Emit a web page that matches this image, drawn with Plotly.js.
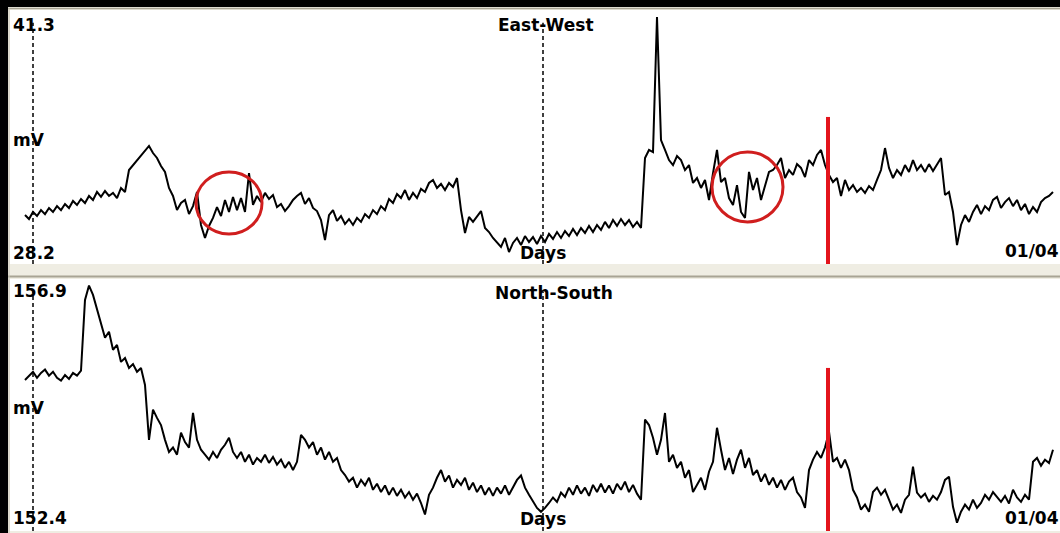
<!DOCTYPE html>
<html><head><meta charset="utf-8">
<script src="https://cdn.plot.ly/plotly-3.0.1.min.js"></script>
<style>html,body{margin:0;padding:0;background:#fff}#chart{width:1060px;height:533px}</style>
</head><body><div id="chart"></div>
<script>
// East-West channel (mV), one value per sample
const eastWest = [
30.66,30.45,30.82,30.61,30.92,30.71,31.03,30.82,31.13,30.92,
31.24,31.03,31.40,31.19,31.50,31.29,31.66,31.45,31.87,31.61,
31.92,31.66,31.82,31.55,32.08,31.87,33.02,33.28,33.54,33.81,
34.07,34.28,33.91,33.65,33.23,32.92,32.08,31.66,30.92,31.29,
31.45,30.71,31.13,31.87,30.14,29.46,30.09,30.51,31.08,30.61,
31.45,30.82,31.61,30.92,31.55,30.82,32.86,31.19,31.66,31.34,
31.82,31.50,31.71,31.08,31.24,30.87,31.13,31.45,31.66,31.82,
31.24,31.55,31.03,30.87,30.40,29.35,30.66,30.92,30.35,30.61,
30.19,30.45,30.14,30.51,30.30,30.71,30.51,30.92,30.71,31.13,
30.92,31.50,31.29,31.76,31.55,31.97,31.45,31.82,31.55,32.03,
31.87,32.34,32.50,32.08,32.29,31.97,32.34,32.13,32.60,30.92,
29.72,30.56,30.30,30.61,30.87,29.98,29.77,29.46,29.25,28.99,
29.46,28.72,29.20,29.46,29.09,29.56,29.25,29.51,29.14,29.56,
29.25,29.67,29.41,29.77,29.46,29.82,29.56,29.93,29.61,29.98,
29.72,30.09,29.77,30.14,29.88,30.30,29.98,30.40,30.09,30.45,
30.14,30.40,30.03,30.30,29.98,33.65,34.07,33.96,41.04,34.59,
34.07,33.54,33.28,33.75,33.54,33.02,33.28,32.34,32.60,32.08,
32.50,31.45,32.86,34.07,32.39,32.60,31.55,31.19,32.23,30.82,
30.51,32.92,31.97,32.60,31.45,32.23,32.92,33.02,33.28,33.65,
32.60,33.02,32.76,33.33,33.13,32.65,33.54,33.28,33.81,34.07,
33.28,32.76,32.39,32.60,31.66,32.50,31.97,32.23,31.87,32.08,
31.82,32.18,31.97,32.50,33.02,34.17,33.13,32.60,33.02,32.76,
33.28,32.92,33.54,33.02,33.28,32.92,33.33,32.97,33.28,33.65,
31.71,31.87,30.82,29.09,30.14,30.66,30.30,30.82,31.19,30.71,
31.13,30.92,31.45,31.61,31.03,31.34,31.55,31.13,31.45,30.92,
31.24,30.71,31.08,30.82,31.34,31.55,31.66,31.87
];
// North-South channel (mV), one value per sample
const northSouth = [
155.13,155.21,155.28,155.17,155.26,155.32,155.21,155.28,155.17,155.12,
155.22,155.15,155.26,155.21,155.30,156.59,156.85,156.68,156.41,156.14,
155.90,156.01,155.68,155.77,155.46,155.53,155.35,155.42,155.28,155.35,
155.04,154.04,154.59,154.44,154.31,154.04,153.82,153.90,153.77,154.17,
154.00,153.90,154.53,154.04,153.86,153.77,153.68,153.82,153.71,153.86,
153.95,154.08,153.82,153.71,153.82,153.64,153.77,153.59,153.71,153.64,
153.77,153.62,153.73,153.59,153.68,153.53,153.64,153.49,153.64,154.13,
154.04,153.90,154.00,153.77,153.90,153.68,153.82,153.64,153.71,153.49,
153.40,153.28,153.35,153.17,153.31,153.21,153.35,153.13,153.24,153.09,
153.21,153.04,153.17,153.02,153.13,152.99,153.09,152.95,153.06,152.89,
152.68,153.04,153.17,153.35,153.49,153.28,153.39,153.17,153.31,153.22,
153.35,153.13,153.26,153.09,153.21,153.04,153.17,153.02,153.17,153.06,
153.21,153.04,153.17,153.31,153.39,153.17,153.04,152.91,152.80,152.73,
152.80,152.89,152.99,152.91,153.08,153.00,153.17,153.04,153.21,153.06,
153.17,153.02,153.22,153.09,153.24,153.08,153.21,153.06,153.24,153.13,
153.28,153.09,153.22,153.06,152.95,154.41,154.31,154.08,153.77,154.04,
154.53,153.64,153.77,153.53,153.64,153.35,153.49,153.09,153.22,153.35,
153.13,153.46,153.64,154.26,153.86,153.49,153.71,153.42,153.68,153.86,
153.53,153.71,153.40,153.49,153.28,153.42,153.22,153.35,153.17,153.31,
153.13,153.28,153.35,153.09,152.99,152.80,153.49,153.68,153.82,153.71,
153.90,154.19,153.64,153.71,153.53,153.68,153.49,153.13,152.99,152.77,
152.86,152.73,153.09,153.17,153.04,153.13,152.95,152.77,152.86,152.71,
152.95,153.04,153.55,153.08,152.99,153.06,152.91,153.02,152.95,153.09,
153.31,153.37,152.82,152.53,152.73,152.86,152.77,152.95,152.80,152.89,
153.04,152.95,153.09,153.00,152.91,153.02,152.88,153.13,152.99,152.91,
153.04,152.95,153.64,153.71,153.57,153.68,153.62,153.86
];
const panelTitles = ['East-West', 'North-South'];
const topLabels = ['41.3', '156.9'];
const bottomLabels = ['28.2', '152.4'];
const unitLabel = 'mV';
const axisLabel = 'Days';
const endDate = '01/04';
const dayMarks = [2, 129.5];      // sample index of day boundaries
const eventMark = 200.75;          // sample index of the red event line
const ewCircles = [[42.75, 59.25, 29.67, 32.92], [171.75, 189.5, 30.30, 33.96]];
const ewEventTop = 35.80, nsEventTop = 155.35;

const W = 1060, H = 533;
const px = v => v / W, py = v => 1 - v / H;
const xr = [-3.75, 258.75];
const FONT = {family: 'DejaVu Sans', size: 17, weight: 'bold', color: '#000'};

const traces = [
  {y: eastWest, type: 'scatter', mode: 'lines', xaxis: 'x', yaxis: 'y',
   line: {color: '#000', width: 2}, hoverinfo: 'skip'},
  {y: northSouth, type: 'scatter', mode: 'lines', xaxis: 'x2', yaxis: 'y2',
   line: {color: '#000', width: 2}, hoverinfo: 'skip'}
];

const hidden = {showgrid: false, zeroline: false, showticklabels: false, showline: false, ticks: '', fixedrange: true};

const shapes = [];
// frame
shapes.push({type: 'rect', xref: 'paper', yref: 'paper', x0: 0, x1: px(8), y0: 0, y1: 1, fillcolor: '#000', line: {width: 0}, layer: 'below'});
shapes.push({type: 'rect', xref: 'paper', yref: 'paper', x0: 0, x1: 1, y0: py(7), y1: 1, fillcolor: '#000', line: {width: 0}, layer: 'below'});
shapes.push({type: 'line', xref: 'paper', yref: 'paper', x0: px(8), x1: 1, y0: py(8.5), y1: py(8.5), line: {color: '#a8a494', width: 1.5}, layer: 'below'});
shapes.push({type: 'line', xref: 'paper', yref: 'paper', x0: px(8), x1: 1, y0: py(276.5), y1: py(276.5), line: {color: '#a8a494', width: 2}, layer: 'below'});
shapes.push({type: 'line', xref: 'paper', yref: 'paper', x0: px(9), x1: px(9), y0: 0, y1: py(8), line: {color: '#c8c4b4', width: 1}, layer: 'below'});
// day boundaries
[['x', 'y'], ['x2', 'y2']].forEach(([xa, ya]) => {
  dayMarks.forEach(d => {
    shapes.push({type: 'line', xref: xa, yref: ya + ' domain', x0: d, x1: d, y0: 0, y1: 0.95,
      line: {color: '#000', width: 1.5, dash: '4px,3px'}, layer: 'below'});
  });
});
// red annotations
shapes.push({type: 'line', xref: 'x', yref: 'y', x0: eventMark, x1: eventMark, y0: ewEventTop, y1: 27.5,
  line: {color: '#e3141c', width: 4}, layer: 'above'});
shapes.push({type: 'line', xref: 'x2', yref: 'y2', x0: eventMark, x1: eventMark, y0: nsEventTop, y1: 152.2,
  line: {color: '#e3141c', width: 4}, layer: 'above'});
ewCircles.forEach(c => shapes.push({type: 'circle', xref: 'x', yref: 'y', x0: c[0], x1: c[1], y0: c[2], y1: c[3],
  line: {color: '#d01e1e', width: 3}, layer: 'above'}));

function ann(text, x, y, xanchor) {
  return {text, xref: 'paper', yref: 'paper', x: px(x), y: py(y), xanchor: xanchor, yanchor: 'middle',
    showarrow: false, font: FONT, borderpad: 0};
}
const annotations = [
  ann(topLabels[0], 12, 25, 'left'), ann(unitLabel, 12, 140, 'left'), ann(bottomLabels[0], 12, 253, 'left'),
  ann(panelTitles[0], 546, 25, 'center'), ann(axisLabel, 543, 253, 'center'), ann(endDate, 1060, 251, 'right'),
  ann(topLabels[1], 12, 291, 'left'), ann(unitLabel, 12, 408, 'left'), ann(bottomLabels[1], 12, 518, 'left'),
  ann(panelTitles[1], 554, 293, 'center'), ann(axisLabel, 543, 519, 'center'), ann(endDate, 1060, 518, 'right')
];

const layout = {
  width: W, height: H, margin: {l: 0, r: 0, t: 0, b: 0},
  paper_bgcolor: '#efede3', plot_bgcolor: '#ffffff', showlegend: false,
  xaxis: Object.assign({domain: [px(10), 1], range: xr, anchor: 'y'}, hidden),
  yaxis: Object.assign({domain: [py(264), py(10)], range: [28.095, 41.405], anchor: 'x'}, hidden),
  xaxis2: Object.assign({domain: [px(10), 1], range: xr, anchor: 'y2'}, hidden),
  yaxis2: Object.assign({domain: [py(531), py(279)], range: [152.38, 156.97], anchor: 'x2'}, hidden),
  shapes, annotations
};
Plotly.newPlot('chart', traces, layout, {staticPlot: true, displayModeBar: false});
</script></body></html>
